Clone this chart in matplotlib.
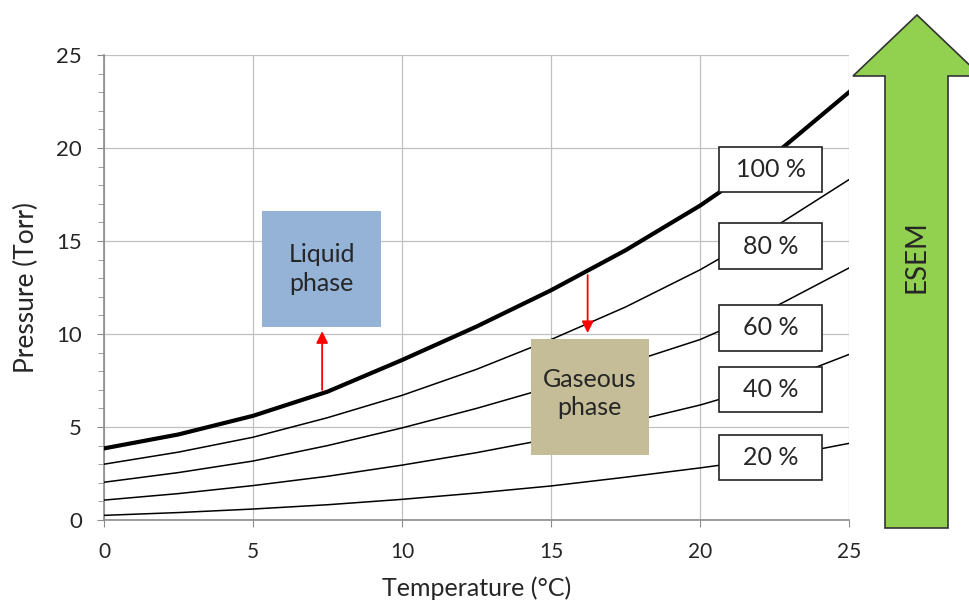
"""Saturation vapour pressure of water vs temperature, with ESEM humidity lines."""
import matplotlib.pyplot as plt
from matplotlib.patches import Polygon, Rectangle
from matplotlib.ticker import MultipleLocator

plt.rcParams["font.family"] = ["Lato", "DejaVu Sans"]

temperature = [0, 2.5, 5, 7.5, 10, 12.5, 15, 17.5, 20, 22.5, 25]
rh_100 = [3.85, 4.6, 5.6, 6.9, 8.6, 10.4, 12.35, 14.5, 16.9, 19.65, 23.0]
rh_80 = [3.0, 3.65, 4.45, 5.5, 6.7, 8.1, 9.7, 11.45, 13.45, 15.75, 18.3]
rh_60 = [2.03, 2.55, 3.17, 4.0, 4.95, 6.0, 7.15, 8.4, 9.7, 11.45, 13.55]
rh_40 = [1.07, 1.42, 1.85, 2.35, 2.95, 3.62, 4.38, 5.22, 6.18, 7.35, 8.9]
rh_20 = [0.25, 0.4, 0.59, 0.82, 1.11, 1.45, 1.83, 2.3, 2.8, 3.35, 4.12]

labels = ["100 %", "80 %", "60 %", "40 %", "20 %"]
label_boxes_y = [(17.65, 20.07), (13.5, 15.95), (9.11, 11.56), (5.82, 8.24), (2.15, 4.57)]

TEXT = "#262626"

fig = plt.figure(figsize=(9.69, 6.03), dpi=100)
ax = fig.add_axes([104 / 969, 83 / 603, 745 / 969, 465 / 603])

ax.plot(temperature, rh_100, color="black", lw=3.0, zorder=3, solid_joinstyle="round")
for series in (rh_80, rh_60, rh_40, rh_20):
    ax.plot(temperature, series, color="black", lw=1.1, zorder=3, solid_joinstyle="round")

ax.set_xlim(0, 25)
ax.set_ylim(0, 25)
ax.xaxis.set_major_locator(MultipleLocator(5))
ax.yaxis.set_major_locator(MultipleLocator(5))
ax.yaxis.set_minor_locator(MultipleLocator(1))
ax.grid(True, which="major", color="#c0c0c0", lw=0.9, zorder=0)
ax.set_axisbelow(True)
for side in ("top", "right"):
    ax.spines[side].set_visible(False)
for side in ("left", "bottom"):
    ax.spines[side].set_color("#8c8c8c")
    ax.spines[side].set_linewidth(1.2)
ax.tick_params(which="both", direction="out", color="#8c8c8c", labelcolor=TEXT)
ax.tick_params(axis="y", which="major", length=5, pad=11, labelsize=16)
ax.tick_params(axis="y", which="minor", length=4)
ax.tick_params(axis="x", which="major", length=5, pad=11, labelsize=15)

ax.set_xlabel("Temperature (°C)", fontsize=18, color=TEXT, labelpad=10)
ax.set_ylabel("Pressure (Torr)", fontsize=19, color=TEXT, labelpad=12)

# phase boxes
ax.add_patch(Rectangle((5.29, 10.36), 4.01, 6.24, facecolor="#95b3d7", edgecolor="none", zorder=4))
ax.text(7.3, 13.5, "Liquid\nphase", ha="center", va="center", fontsize=18,
        color=TEXT, linespacing=1.3, zorder=5)
ax.add_patch(Rectangle((14.33, 3.49), 3.96, 6.22, facecolor="#c4bd97", edgecolor="none", zorder=4))
ax.text(16.3, 6.8, "Gaseous\nphase", ha="center", va="center", fontsize=18,
        color=TEXT, linespacing=1.3, zorder=5)

ax.annotate("", xy=(7.32, 10.15), xytext=(7.32, 7.0),
            arrowprops=dict(arrowstyle="-|>,head_length=0.7,head_width=0.35",
                            color="#ff0000", lw=1.3, shrinkA=0, shrinkB=0), zorder=5)
ax.annotate("", xy=(16.23, 10.05), xytext=(16.23, 13.17),
            arrowprops=dict(arrowstyle="-|>,head_length=0.7,head_width=0.35",
                            color="#ff0000", lw=1.3, shrinkA=0, shrinkB=0), zorder=5)

# humidity labels
for text, (y0, y1) in zip(labels, label_boxes_y):
    ax.add_patch(Rectangle((20.64, y0), 3.46, y1 - y0, facecolor="white",
                           edgecolor="#222222", lw=1.2, zorder=6))
    ax.text(22.37, (y0 + y1) / 2, text, ha="center", va="center", fontsize=18,
            color=TEXT, zorder=7)

# ESEM arrow drawn in figure pixels
overlay = fig.add_axes([0, 0, 1, 1], facecolor="none")
overlay.set_xlim(0, 969)
overlay.set_ylim(603, 0)
overlay.axis("off")
arrow = [(885, 528), (885, 76), (853, 76), (917, 15), (981, 76), (948, 76), (948, 528)]
overlay.add_patch(Polygon(arrow, closed=True, facecolor="#92d050", edgecolor="#333333",
                          lw=1.2, clip_on=False))
overlay.text(917, 257, "ESEM", rotation=90, ha="center", va="center", fontsize=20,
             color=TEXT)

fig.savefig("out.png", dpi=100)
